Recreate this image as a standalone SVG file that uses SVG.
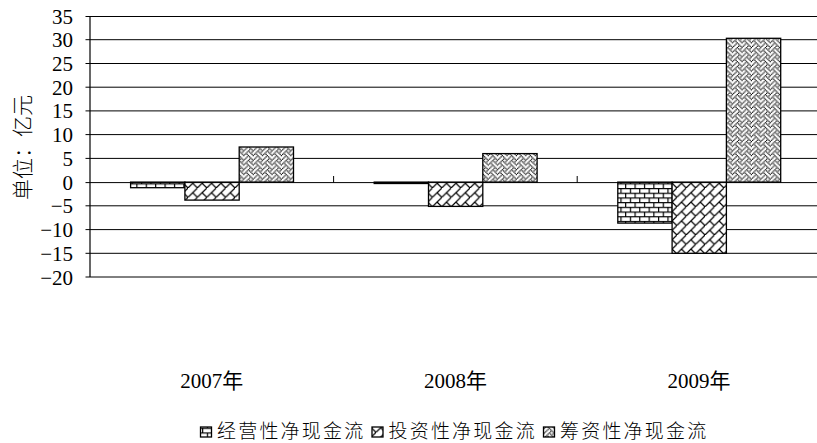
<svg xmlns="http://www.w3.org/2000/svg" width="817" height="443" viewBox="0 0 817 443">
<style>
.grid{stroke:#000;stroke-width:1;fill:none}
.axis{stroke:#000;stroke-width:1.2;fill:none}
.bar{stroke:#000;stroke-width:1.3}
.lbl{font-family:"Liberation Serif","Noto Sans CJK SC",serif;font-size:21px;fill:#000}
.cat{font-family:"Liberation Serif","Noto Sans CJK SC",serif;font-size:21px;fill:#000;text-anchor:middle}
.leg{font-family:"Noto Sans CJK SC",sans-serif;font-size:19px;font-weight:300;letter-spacing:2.2px;fill:#000}
.ttl{font-family:"Noto Sans CJK SC",sans-serif;font-size:21px;font-weight:300;fill:#000;text-anchor:middle;dominant-baseline:central}
</style>
<defs>
<pattern id="brick" width="8" height="8" patternUnits="userSpaceOnUse" patternTransform="scale(1.175)">
<rect width="8" height="8" fill="#fff"/>
<path d="M0,0.5H8 M0,4.5H8 M0.5,0V4.5 M4.5,4.5V8" stroke="#000" stroke-width="1"/>
</pattern>
<pattern id="dbrick" width="8" height="8" patternUnits="userSpaceOnUse" patternTransform="scale(1.175)">
<rect width="8" height="8" fill="#fff"/>
<path d="M9,-1L-1,9 M4,4L9,9 M-4,4L1,9" stroke="#000" stroke-width="1"/>
</pattern>
<pattern id="weave" width="8" height="8" patternUnits="userSpaceOnUse" patternTransform="scale(1.175)">
<rect width="8" height="8" fill="#fff"/>
<g fill="#000">
<rect x="3" y="0" width="1" height="1"/><rect x="7" y="0" width="1" height="1"/>
<rect x="2" y="1" width="1" height="1"/><rect x="4" y="1" width="1" height="1"/><rect x="6" y="1" width="1" height="1"/>
<rect x="1" y="2" width="1" height="1"/><rect x="5" y="2" width="1" height="1"/>
<rect x="0" y="3" width="1" height="1"/><rect x="2" y="3" width="1" height="1"/><rect x="6" y="3" width="1" height="1"/>
<rect x="3" y="4" width="1" height="1"/><rect x="7" y="4" width="1" height="1"/>
<rect x="2" y="5" width="1" height="1"/><rect x="4" y="5" width="1" height="1"/>
<rect x="1" y="6" width="1" height="1"/><rect x="5" y="6" width="1" height="1"/>
<rect x="0" y="7" width="1" height="1"/><rect x="4" y="7" width="1" height="1"/><rect x="6" y="7" width="1" height="1"/>
</g>
</pattern>
</defs>
<rect width="817" height="443" fill="#fff"/>

<g id="gridlines">
<path class="grid" d="M85.5,16.5H817 M85.5,39.7H817 M85.5,63.5H817 M85.5,87.2H817 M85.5,110.9H817 M85.5,134.6H817 M85.5,158.4H817 M85.5,205.8H817 M85.5,229.6H817 M85.5,253.3H817 M85.5,277H817"/>
</g>

<g id="y-labels" class="lbl" text-anchor="end">
<text x="73" y="24">35</text>
<text x="73" y="47.2">30</text>
<text x="73" y="71">25</text>
<text x="73" y="94.7">20</text>
<text x="73" y="118.4">15</text>
<text x="73" y="142.1">10</text>
<text x="73" y="165.9">5</text>
<text x="73" y="189.6">0</text>
<text x="73" y="213.3">−5</text>
<text x="73" y="237.1">−10</text>
<text x="73" y="260.8">−15</text>
<text x="73" y="284.5">−20</text>
</g>

<g id="y-title">
<text class="ttl" transform="translate(21,147.5) rotate(-90)">单位：亿元</text>
</g>

<g id="bars-2007">
<rect class="bar" x="130.6" y="182.1" width="54.3" height="5.6" fill="url(#brick)"/>
<rect class="bar" x="184.9" y="182.1" width="54.3" height="18" fill="url(#dbrick)"/>
<rect class="bar" x="239.2" y="147" width="54.3" height="35.1" fill="url(#weave)"/>
</g>
<g id="bars-2008">
<rect class="bar" x="374.2" y="182.1" width="54.3" height="1.4" fill="#000"/>
<rect class="bar" x="428.5" y="182.1" width="54.3" height="24.3" fill="url(#dbrick)"/>
<rect class="bar" x="482.8" y="153.6" width="54.3" height="28.5" fill="url(#weave)"/>
</g>
<g id="bars-2009">
<rect class="bar" x="617.8" y="182.1" width="54.3" height="41" fill="url(#brick)"/>
<rect class="bar" x="672.1" y="182.1" width="54.3" height="71.2" fill="url(#dbrick)"/>
<rect class="bar" x="726.4" y="38.3" width="54.3" height="143.8" fill="url(#weave)"/>
</g>

<g id="axes">
<path class="axis" d="M90,16V277"/>
<path class="grid" d="M85.5,182.6H817 M333.6,176V182.6 M577.2,176V182.6"/>
</g>

<g id="x-labels" class="cat">
<text x="211.8" y="388">2007年</text>
<text x="455.4" y="388">2008年</text>
<text x="699" y="388">2009年</text>
</g>

<g id="legend">
<rect class="bar" x="200.5" y="427" width="11" height="10" fill="url(#brick)" stroke-width="1.2"/>
<text class="leg" x="217" y="438">经营性净现金流</text>
<rect class="bar" x="372" y="427" width="11" height="10" fill="url(#dbrick)" stroke-width="1.2"/>
<text class="leg" x="388.5" y="438">投资性净现金流</text>
<rect class="bar" x="543.5" y="427" width="11" height="10" fill="url(#weave)" stroke-width="1.2"/>
<text class="leg" x="560" y="438">筹资性净现金流</text>
</g>
</svg>
